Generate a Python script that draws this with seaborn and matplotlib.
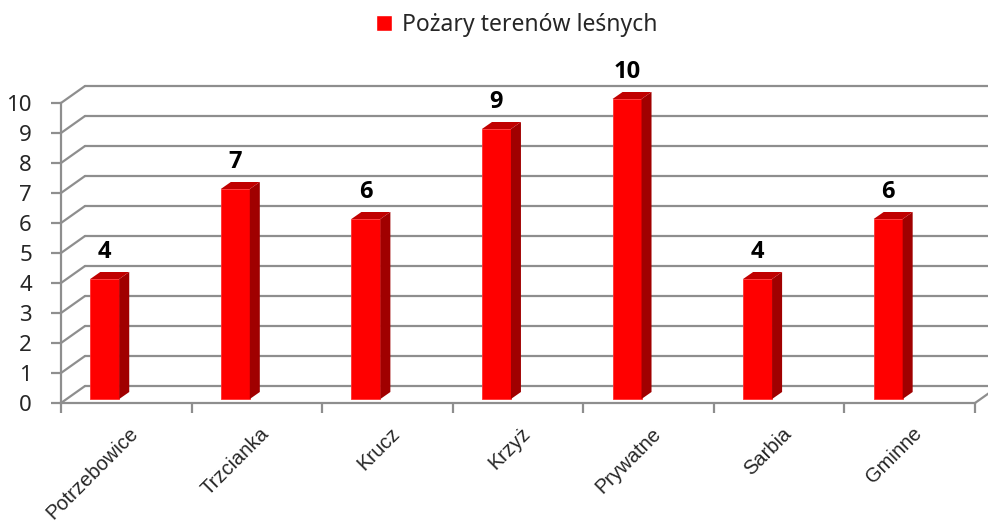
import numpy as np
import pandas as pd
import matplotlib.pyplot as plt
import seaborn as sns
from matplotlib.patches import Patch, Polygon

# data
categories = ["Potrzebowice", "Trzcianka", "Krucz", "Krzyż", "Prywatne", "Sarbia", "Gminne"]
values = [4, 7, 6, 9, 10, 4, 6]
series_name = "Pożary terenów leśnych"
y_ticks = list(range(0, 11))

df = pd.DataFrame({"kategoria": categories, "liczba": values})

sns.set_style("white")
plt.rcParams["font.family"] = ["Noto Sans", "DejaVu Sans"]

fig = plt.figure(figsize=(9.88, 5.26), dpi=100)
W, H = 988, 526
ax = fig.add_axes([61 / W, (H - 403) / H, 914 / W, 300 / H])

grid_c = "#8e8e8e"
sns.barplot(data=df, x="kategoria", y="liczba", color="#ff0000", width=0.222,
            saturation=1, ax=ax, zorder=3)
ax.set_xlim(-0.5, 6.5)
ax.set_ylim(0, 10)

# 3d-ish look: px -> data units
ux = 914 / 7
uy = 30
wall_dx, wall_dy = 24 / ux, 17 / uy
side_dx, side_dy = 10 / ux, 7 / uy
shift = -0.165
base = 4 / uy

# back wall grid and depth lines
for v in y_ticks:
    ax.plot([-0.5 + wall_dx, 6.5 + wall_dx], [v + wall_dy, v + wall_dy],
            color=grid_c, lw=1.6, clip_on=False, zorder=1)
    ax.plot([-0.5, -0.5 + wall_dx], [v, v + wall_dy], color=grid_c, lw=1.6,
            clip_on=False, zorder=1)
ax.plot([6.5, 6.5 + wall_dx], [0, wall_dy], color=grid_c, lw=1.6, clip_on=False, zorder=1)

for p in ax.patches:
    p.set_x(p.get_x() + shift)
    h = p.get_height()
    p.set_y(base)
    p.set_edgecolor("#ff3030")
    p.set_linewidth(0.6)
    p.set_clip_on(False)
    xl = p.get_x()
    xr = xl + p.get_width()
    top = base + h
    side = Polygon([[xr, base], [xr + side_dx, base + side_dy],
                    [xr + side_dx, top + side_dy], [xr, top]],
                   closed=True, facecolor="#a00000", edgecolor="none", zorder=3,
                   clip_on=False)
    cap = Polygon([[xl, top], [xr, top], [xr + side_dx, top + side_dy],
                   [xl + side_dx, top + side_dy]],
                  closed=True, facecolor="#c00000", edgecolor="none", zorder=3,
                  clip_on=False)
    ax.add_patch(side)
    ax.add_patch(cap)

for t in ax.bar_label(ax.containers[0], labels=[str(v) for v in values], padding=11,
                      fontsize=17, color="black"):
    t.set_fontfamily(["Open Sans", "DejaVu Sans"])
    t.set_fontweight("bold")
    t.set_clip_on(False)
    t.set_annotation_clip(False)

# axes styling
for s in ["top", "right"]:
    ax.spines[s].set_visible(False)
for s in ["left", "bottom"]:
    ax.spines[s].set_color(grid_c)
    ax.spines[s].set_linewidth(1.6)

ax.set_yticks(y_ticks)
ax.set_yticklabels([str(v) for v in y_ticks], fontsize=16)
ax.tick_params(axis="y", length=7, width=1.6, color=grid_c, pad=14, left=True)

ax.set_xticks(np.arange(-0.5, 7, 1))
ax.set_xticklabels([])
ax.tick_params(axis="x", which="major", length=7, width=1.6, color=grid_c, bottom=True)
ax.set_xticks(np.arange(7) + 0.02, minor=True)
ax.set_xticklabels(categories, minor=True, rotation=45, ha="right",
                   rotation_mode="anchor", fontsize=14.5,
                   family=["Liberation Sans", "DejaVu Sans"])
ax.tick_params(axis="x", which="minor", length=0, pad=15)
ax.set_xlabel("")
ax.set_ylabel("")
ax.set_facecolor("none")

fig.legend(handles=[Patch(facecolor="#ff0000")], labels=[series_name],
           loc="center", bbox_to_anchor=(0.523, 1 - 25 / H), frameon=False,
           fontsize=16.5, handlelength=0.7, handleheight=0.7, handletextpad=0.4)

fig.savefig("out.png", dpi=100)
